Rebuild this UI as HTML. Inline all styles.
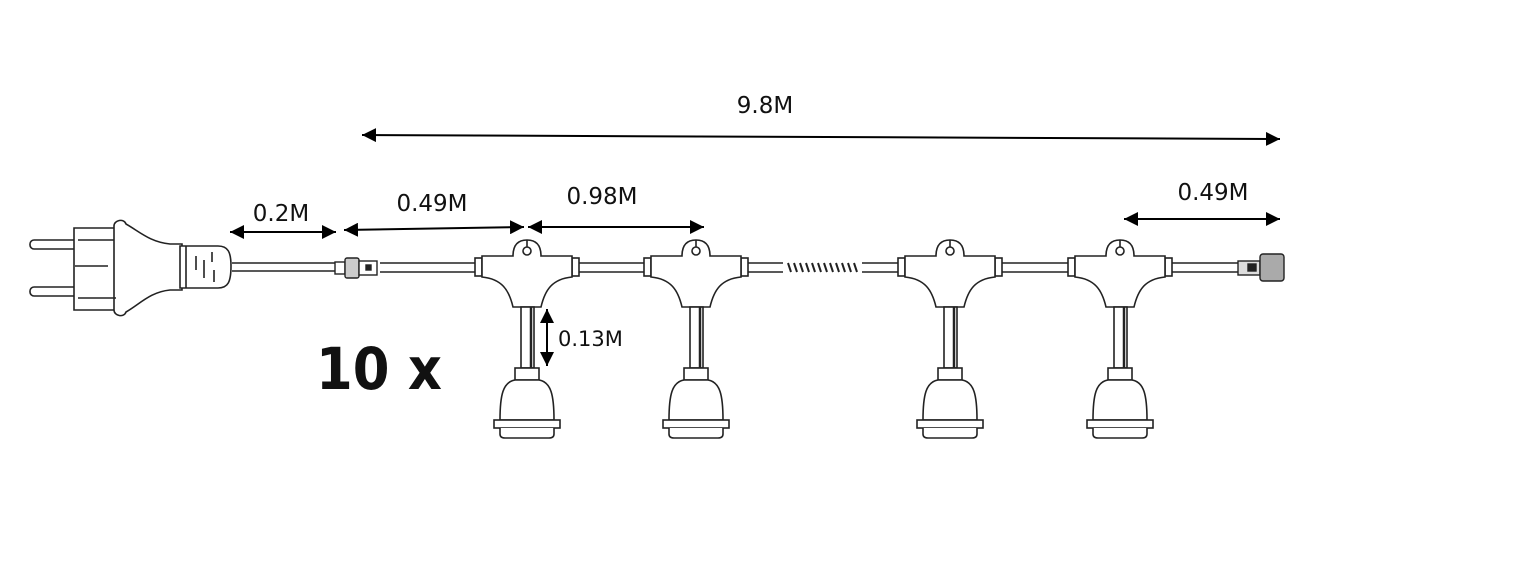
<!DOCTYPE html>
<html><head><style>
html,body{margin:0;padding:0;background:#fff;width:1540px;height:562px;overflow:hidden}
text{font-family:"DejaVu Sans","Liberation Sans",sans-serif}
</style></head><body>
<svg width="1540" height="562" viewBox="0 0 1540 562" xmlns="http://www.w3.org/2000/svg">
<defs>
<marker id="a" viewBox="0 0 10 10" refX="10" refY="5" markerWidth="7" markerHeight="7" orient="auto-start-reverse"><path d="M0,0L10,5L0,10z" fill="#000"/></marker>
<g id="s" fill="#fff" stroke="#222" stroke-width="1.6">
  <rect x="-52" y="258" width="7" height="18"/>
  <rect x="45" y="258" width="7" height="18"/>
  <path d="M-45,256 H-14 C-14,246 -10,240 0,240 C10,240 14,246 14,256 H45 V277 C25,279 18,290 14,307 H-14 C-18,290 -25,279 -45,277 Z"/>
  <circle cx="0" cy="251" r="4"/>
  <line x1="0" y1="240" x2="0" y2="247"/>
  <rect x="-6" y="307" width="13" height="61"/>
  <line x1="4" y1="307" x2="4" y2="368" stroke-width="2.5"/>
  <rect x="-12" y="368" width="24" height="12"/>
  <path d="M-12,380 C-24,382 -27,395 -27,420 H27 C27,395 24,382 12,380 Z"/>
  <rect x="-33" y="420" width="66" height="8"/>
  <path d="M-27,428 V434 C-27,437 -25,438 -22,438 H22 C25,438 27,437 27,434 V428"/>
</g>
</defs>
<g stroke="#222" stroke-width="1.6" fill="none">
<line x1="232" y1="263" x2="338" y2="263"/><line x1="232" y1="271" x2="338" y2="271"/>
<line x1="380" y1="263" x2="475" y2="263"/><line x1="380" y1="272" x2="475" y2="272"/>
<line x1="579" y1="263" x2="644" y2="263"/><line x1="579" y1="272" x2="644" y2="272"/>
<line x1="748" y1="263" x2="783" y2="263"/><line x1="748" y1="272" x2="783" y2="272"/>
<line x1="862" y1="263" x2="898" y2="263"/><line x1="862" y1="272" x2="898" y2="272"/>
<path d="M788,263l3,9M794,263l3,9M800,263l3,9M806,263l3,9M812,263l3,9M818,263l3,9M824,263l3,9M830,263l3,9M836,263l3,9M842,263l3,9M848,263l3,9M854,263l3,9" stroke-width="2"/>
<line x1="1002" y1="263" x2="1068" y2="263"/><line x1="1002" y1="272" x2="1068" y2="272"/>
<line x1="1172" y1="263" x2="1238" y2="263"/><line x1="1172" y1="272" x2="1238" y2="272"/>
</g>
<use href="#s" x="527"/><use href="#s" x="696"/><use href="#s" x="950"/><use href="#s" x="1120"/>
<g fill="#fff" stroke="#222" stroke-width="1.6">
<rect x="30" y="240" width="48" height="9" rx="4"/>
<rect x="30" y="287" width="48" height="9" rx="4"/>
<path d="M74,228 H118 V310 H74 Z"/>
<path d="M114,226 C114,220 124,218 126,224 C140,232 150,242 170,244 H182 V290 H170 C150,292 140,304 126,312 C124,318 114,316 114,310 Z"/>
<path d="M180,246 H218 C228,246 231,252 231,266 C231,282 228,288 218,288 H180 Z"/>
<path d="M186,246 V288 M196,256 v14 M204,260 v18 M212,252 v10 M214,270 v12" fill="none"/>
<path d="M75,266 H108 M78,298 H116 M78,240 H114" fill="none"/>
</g>
<g fill="#fff" stroke="#222" stroke-width="1.4">
<rect x="335" y="262" width="10" height="12"/>
<rect x="345" y="258" width="14" height="20" rx="2" fill="#ccc"/>
<rect x="359" y="261" width="18" height="14"/><rect x="366" y="265" width="5" height="5" fill="#222"/>
<rect x="1238" y="261" width="22" height="14" fill="#ddd"/><rect x="1248" y="264" width="8" height="7" fill="#222"/>
<rect x="1260" y="254" width="24" height="27" rx="3" fill="#aaa"/>
</g>
<g stroke="#000" stroke-width="2" marker-start="url(#a)" marker-end="url(#a)">
<line x1="362" y1="135" x2="1280" y2="139"/>
<line x1="230" y1="232" x2="336" y2="232"/>
<line x1="344" y1="230" x2="524" y2="227"/>
<line x1="528" y1="227" x2="704" y2="227"/>
<line x1="1124" y1="219" x2="1280" y2="219"/>
<line x1="547" y1="309" x2="547" y2="366"/>
</g>
<g font-size="23" fill="#111">
<text x="765" y="113" text-anchor="middle">9.8M</text>
<text x="281" y="221" text-anchor="middle">0.2M</text>
<text x="432" y="211" text-anchor="middle">0.49M</text>
<text x="602" y="204" text-anchor="middle">0.98M</text>
<text x="1213" y="200" text-anchor="middle">0.49M</text>
<text x="558" y="346" font-size="21">0.13M</text>
</g>
<text x="316" y="389" font-size="58" font-weight="bold" fill="#111" textLength="126" lengthAdjust="spacingAndGlyphs">10 x</text>
</svg>
</body></html>
